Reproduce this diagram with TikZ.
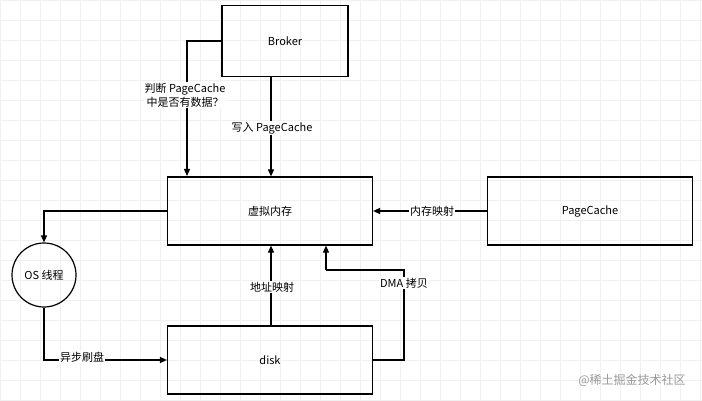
\documentclass[tikz,border=0pt]{standalone}
\usepackage{fontspec}
\setmainfont{Noto Sans CJK SC}
\usetikzlibrary{arrows.meta}
\begin{document}
\begin{tikzpicture}[x=1pt,y=-1pt,
  box/.style={draw,line width=1.2pt,minimum width=205pt,minimum height=68pt,font=\fontsize{11}{13}\selectfont},
  conn/.style={line width=1.2pt,-{Triangle[length=7pt,width=6pt]}},
  lbl/.style={fill=white,inner sep=1pt,font=\fontsize{11}{14}\selectfont,align=center},
  grid line/.style={draw=black!6,line width=0.5pt}]
\useasboundingbox (0,0) rectangle (702,401);
\fill[white] (0,0) rectangle (702,401);
\foreach \i in {0,20,...,700} \draw[grid line] (\i,0) -- (\i,401);
\foreach \j in {0,20,...,400} \draw[grid line] (0,\j) -- (702,\j);

\node[box,minimum width=126pt,minimum height=71pt] (broker) at (285,41) {Broker};
\node[box] (vm) at (270,211) {虚拟内存};
\node[box] (pc) at (590,211) {PageCache};
\node[box] (disk) at (270,360) {disk};
\node[draw,circle,line width=1.2pt,minimum size=64pt,font=\fontsize{11}{13}\selectfont] (os) at (44,275) {OS 线程};

\coordinate (b1) at (187,41);
\coordinate (v1) at (187,176);
\draw[conn] (broker.west |- b1) -- (b1) -- (v1);
\node[lbl] (l1) at (185,95) {判断 PageCache\\中是否有数据？};

\draw[conn] (broker.south -| 271,0) -- (vm.north -| 271,0);
\node[lbl] (l2) at (272,128) {写入 PageCache};

\draw[conn] (pc.west) -- (vm.east);
\node[lbl] (l3) at (432,211) {内存映射};

\coordinate (c1) at (44,211);
\draw[conn] (vm.west) -- (c1) -- (os.north);

\coordinate (c2) at (44,360);
\draw[conn] (os.south) -- (c2) -- (disk.west);
\node[lbl] (l4) at (82,357) {异步刷盘};

\draw[conn] (disk.north -| 271,0) -- (vm.south -| 271,0);
\node[lbl] (l5) at (272,287) {地址映射};

\coordinate (d1) at (404,360);
\coordinate (d2) at (404,270);
\coordinate (d3) at (326,270);
\draw[line width=1.2pt] (disk.east |- d1) -- (d1) -- (d2) -- (d3);
\draw[conn] (d3) -- (vm.south -| d3);
\node[lbl] (l6) at (404,283) {DMA 拷贝};

\node[font=\fontsize{12}{14}\selectfont,text=black!40] (wm) at (632,380) {@稀土掘金技术社区};
\end{tikzpicture}
\end{document}
